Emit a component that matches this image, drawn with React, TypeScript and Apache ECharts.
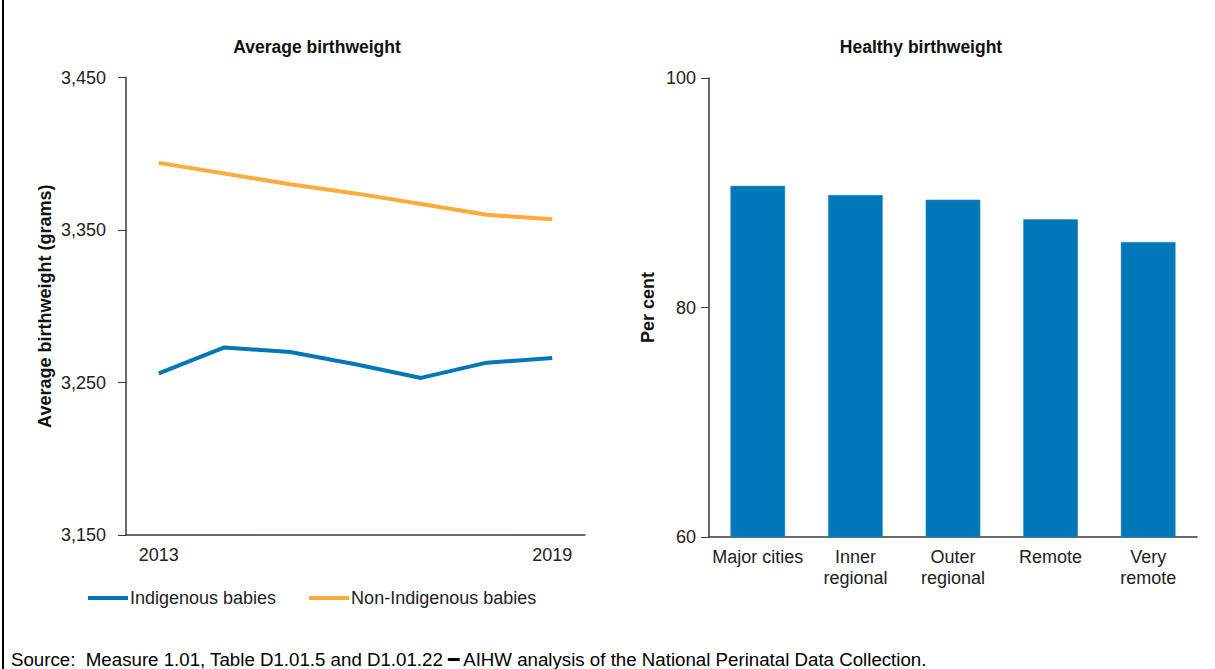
import React, { useEffect, useRef } from "react";
import * as echarts from "echarts";

const years = ["2013", "2014", "2015", "2016", "2017", "2018", "2019"];
const indigenous = [3256, 3273, 3270, 3262, 3253, 3263, 3266];
const nonIndigenous = [3394, 3387, 3380, 3374, 3367, 3360, 3357];

const regions = ["Major cities", "Inner\nregional", "Outer\nregional", "Remote", "Very\nremote"];
const healthy = [90.6, 89.8, 89.4, 87.7, 85.7];

const FONT = "'Liberation Sans', Arial, sans-serif";
const BLUE = "#0077b6";
const ORANGE = "#fdab3b";
const AXIS = "#3a3a3a";
const FS = 18;

export default function App() {
  const ref = useRef<HTMLDivElement>(null);
  useEffect(() => {
    if (!ref.current) return;
    const chart = echarts.init(ref.current, undefined, { renderer: "svg" });
    chart.setOption({
      animation: false,
      backgroundColor: "#ffffff",
      textStyle: { fontFamily: FONT },
      title: [
        {
          text: "Average birthweight",
          left: 312,
          top: 33,
          textAlign: "center",
          textStyle: { fontFamily: FONT, fontSize: 17.5, fontWeight: "bold", color: "#111" },
        },
        {
          text: "Healthy birthweight",
          left: 916,
          top: 33,
          textAlign: "center",
          textStyle: { fontFamily: FONT, fontSize: 17.5, fontWeight: "bold", color: "#111" },
        },
      ],
      legend: {
        left: 83,
        top: 584,
        itemWidth: 40,
        itemHeight: 4,
        itemGap: 33,
        icon: "rect",
        textStyle: { fontFamily: FONT, fontSize: FS, color: "#222", padding: [0, 0, 0, -3] },
        data: [
          { name: "Indigenous babies", itemStyle: { color: BLUE } },
          { name: "Non-Indigenous babies", itemStyle: { color: ORANGE } },
        ],
      },
      grid: [
        { left: 126, top: 77.5, width: 459, height: 457.5, containLabel: false },
        { left: 709, top: 78, width: 488, height: 459, containLabel: false },
      ],
      xAxis: [
        {
          type: "category",
          gridIndex: 0,
          data: years,
          boundaryGap: true,
          axisLine: { lineStyle: { color: AXIS, width: 1.5 } },
          axisTick: { show: false },
          axisLabel: {
            interval: (i: number) => i === 0 || i === years.length - 1,
            fontFamily: FONT,
            fontSize: FS,
            color: "#222",
            margin: 11,
          },
        },
        {
          type: "category",
          gridIndex: 1,
          data: regions,
          axisLine: { lineStyle: { color: AXIS, width: 1.5 } },
          axisTick: { show: false },
          axisLabel: {
            interval: 0,
            fontFamily: FONT,
            fontSize: FS,
            color: "#222",
            margin: 9,
            lineHeight: 21,
          },
        },
      ],
      yAxis: [
        {
          type: "value",
          gridIndex: 0,
          min: 3150,
          max: 3450,
          interval: 100,
          name: "Average birthweight (grams)",
          nameLocation: "middle",
          nameGap: 72,
          nameRotate: 90,
          nameTextStyle: { fontFamily: FONT, fontSize: FS, fontWeight: "bold", color: "#111" },
          axisLine: { show: true, lineStyle: { color: AXIS, width: 1.5 } },
          axisTick: { show: true, length: 8, lineStyle: { color: AXIS } },
          splitLine: { show: false },
          axisLabel: {
            fontFamily: FONT,
            fontSize: FS,
            color: "#222",
            margin: 20,
            formatter: (v: number) => v.toLocaleString("en-US"),
          },
        },
        {
          type: "value",
          gridIndex: 1,
          min: 60,
          max: 100,
          interval: 20,
          name: "Per cent",
          nameLocation: "middle",
          nameGap: 52,
          nameRotate: 90,
          nameTextStyle: { fontFamily: FONT, fontSize: FS, fontWeight: "bold", color: "#111" },
          axisLine: { show: true, lineStyle: { color: AXIS, width: 1.5 } },
          axisTick: { show: true, length: 8, lineStyle: { color: AXIS } },
          splitLine: { show: false },
          axisLabel: { fontFamily: FONT, fontSize: FS, color: "#222", margin: 13 },
        },
      ],
      series: [
        {
          name: "Indigenous babies",
          type: "line",
          xAxisIndex: 0,
          yAxisIndex: 0,
          data: indigenous,
          showSymbol: false,
          symbol: "none",
          lineStyle: { color: BLUE, width: 4 },
          itemStyle: { color: BLUE },
        },
        {
          name: "Non-Indigenous babies",
          type: "line",
          xAxisIndex: 0,
          yAxisIndex: 0,
          data: nonIndigenous,
          showSymbol: false,
          symbol: "none",
          lineStyle: { color: ORANGE, width: 4 },
          itemStyle: { color: ORANGE },
        },
        {
          name: "Healthy birthweight",
          type: "bar",
          xAxisIndex: 1,
          yAxisIndex: 1,
          data: healthy,
          barWidth: "56%",
          itemStyle: { color: "#0077b6", borderColor: "#2b8fc8", borderWidth: 0.5 },
        },
      ],
      graphic: [
        {
          type: "line",
          shape: { x1: 3, y1: 0, x2: 3, y2: 669 },
          style: { stroke: "#000", lineWidth: 2 },
        },
        {
          type: "text",
          left: 11,
          top: 650,
          style: {
            text: "Source:  Measure 1.01, Table D1.01.5 and D1.01.22 ━ AIHW analysis of the National Perinatal Data Collection.",
            font: `18.7px ${FONT}`,
            fill: "#000",
          },
        },
      ],
    });
    return () => chart.dispose();
  }, []);
  return (
    <div
      ref={ref}
      style={{ position: "absolute", left: 0, top: 0, width: 1215, height: 669 }}
    />
  );
}
